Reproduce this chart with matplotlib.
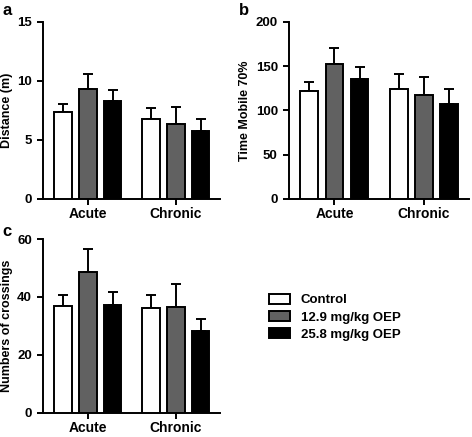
import matplotlib

matplotlib.use("Agg")
import matplotlib.pyplot as plt
import numpy as np

plt.rcParams["font.family"] = ["Liberation Sans", "DejaVu Sans"]
plt.rcParams["font.weight"] = "bold"

groups = ["Acute", "Chronic"]
treatments = ["Control", "12.9 mg/kg OEP", "25.8 mg/kg OEP"]
colors = ["white", "#616161", "black"]

# mean and upper error (mean + SEM) per treatment, [acute, chronic]
distance_mean = [[7.4, 6.75], [9.3, 6.35], [8.3, 5.75]]
distance_top = [[8.0, 7.7], [10.6, 7.8], [9.2, 6.75]]

mobile_mean = [[122, 124], [152, 117], [135, 107]]
mobile_top = [[132, 141], [171, 138], [149, 124]]

cross_mean = [[36.7, 36.0], [48.6, 36.4], [37.2, 28.1]]
cross_top = [[40.6, 40.6], [56.5, 44.3], [41.7, 32.4]]

panels = [
    ("a", "Distance (m)", distance_mean, distance_top, [0, 5, 10, 15]),
    ("b", "Time Mobile 70%", mobile_mean, mobile_top, [0, 50, 100, 150, 200]),
    ("c", "Numbers of crossings", cross_mean, cross_top, [0, 20, 40, 60]),
]
rects = [
    [0.091, 0.545, 0.375, 0.405],
    [0.612, 0.545, 0.381, 0.405],
    [0.091, 0.056, 0.375, 0.397],
]
letter_pos = [(0.006, 0.977), (0.506, 0.977), (0.006, 0.471)]

fig = plt.figure(figsize=(4.72, 4.37), dpi=100)
x = np.arange(len(groups))
offsets = [-0.28, 0.0, 0.28]
width = 0.2

handles = []
for (letter, ylabel, means, tops, yticks), rect, lp in zip(panels, rects, letter_pos):
    ax = fig.add_axes(rect)
    for i in range(3):
        m = np.array(means[i])
        err = np.array(tops[i]) - m
        b = ax.bar(x + offsets[i], m, width, color=colors[i], edgecolor="black",
                   linewidth=1.4, zorder=3, label=treatments[i])
        ax.errorbar(x + offsets[i], m, yerr=[np.zeros_like(err), err], fmt="none",
                    ecolor="black", elinewidth=1.4, capsize=3.5, capthick=1.4,
                    zorder=2)
        if letter == "a":
            handles.append(b)
    ax.set_xlim(-0.51, 1.5)
    ax.set_ylim(yticks[0], yticks[-1])
    ax.set_yticks(yticks)
    ax.set_xticks(x)
    ax.set_xticklabels(groups, fontsize=10, fontweight="bold")
    ax.tick_params(axis="x", length=4, width=1.4, pad=2)
    ax.tick_params(axis="y", labelsize=9.5, width=1.4, length=4.5)
    for lab in ax.get_yticklabels():
        lab.set_fontweight("bold")
    ax.set_ylabel(ylabel, fontsize=9, fontweight="bold", labelpad=3)
    for s in ["top", "right"]:
        ax.spines[s].set_visible(False)
    for s in ["left", "bottom"]:
        ax.spines[s].set_linewidth(1.4)
    fig.text(lp[0], lp[1], letter, fontsize=12, fontweight="bold",
             ha="left", va="center")

fig.legend(handles=handles, labels=treatments, loc="upper left",
           bbox_to_anchor=(0.545, 0.355), frameon=False,
           handlelength=1.6, handleheight=0.8, labelspacing=0.35,
           handletextpad=0.8, prop={"weight": "bold", "size": 9.5})

fig.savefig("out.png", dpi=100)
